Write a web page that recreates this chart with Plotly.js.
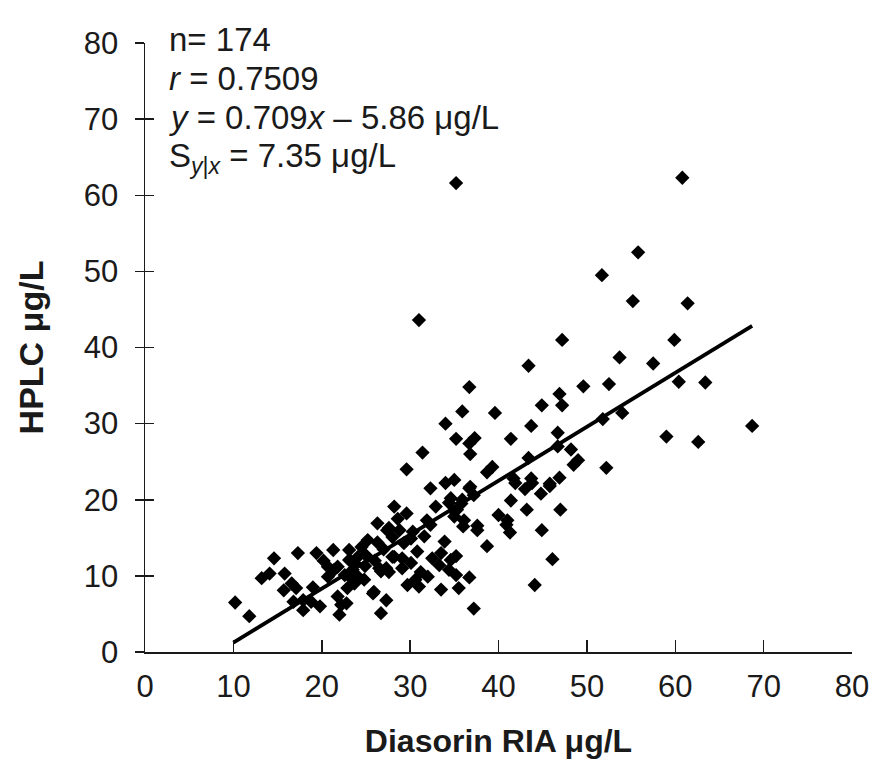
<!DOCTYPE html>
<html>
<head>
<meta charset="utf-8">
<script src="https://cdn.plot.ly/plotly-3.0.1.min.js"></script>
<style>html,body{margin:0;padding:0;background:#fff;}#chart{width:873px;height:770px;}</style>
</head>
<body>
<div id="chart"></div>
<script>
// Diasorin RIA (x, µg/L) vs HPLC (y, µg/L)
const diasorinRIA = [
  35.2, 60.8, 31.0, 55.8, 51.7, 55.2, 61.4, 47.2, 59.9, 43.4,
  53.7, 57.5, 49.6, 52.5, 60.4, 63.4, 39.6, 44.9, 46.9, 47.2,
  43.7, 41.4, 46.7, 46.7, 51.8, 54.0, 59.0, 62.6, 68.7, 43.4,
  48.2, 48.5, 49.0, 52.2, 39.3, 38.7, 41.7, 43.7, 46.9, 36.7,
  35.9, 37.3, 36.7, 36.8, 41.9, 43.8, 45.8, 36.8, 43.0, 44.8,
  45.8, 41.4, 43.2, 47.0, 40.0, 41.0, 40.9, 41.3, 37.6, 44.9,
  38.7, 35.2, 46.1, 36.7, 35.5, 44.1, 37.2, 34.0, 35.2, 31.4,
  29.6, 34.0, 35.0, 32.3, 34.6, 35.9, 28.2, 32.9, 36.7, 37.2,
  29.6, 26.3, 35.0, 36.1, 37.6, 35.3, 34.4, 27.6, 28.8, 30.3,
  31.9, 32.3, 25.2, 26.3, 29.3, 30.1, 21.3, 23.1, 24.1, 23.3,
  28.0, 29.1, 30.1, 33.5, 34.6, 26.5, 27.6, 29.1, 33.3, 34.4,
  35.2, 21.8, 22.6, 23.5, 24.8, 31.2, 32.0, 30.6, 31.0, 29.7,
  25.9, 27.3, 21.8, 22.8, 33.5, 26.7, 10.2, 11.8, 14.6, 17.3,
  19.4, 14.1, 15.8, 16.6, 17.1, 15.7, 20.7, 16.8, 17.9, 18.8,
  19.8, 17.9, 13.2, 22.0, 22.2, 22.9, 25.8, 23.1, 23.7, 24.5,
  25.0, 27.4, 28.0, 28.2, 27.3, 26.7, 21.4, 20.7, 23.7, 24.1,
  23.5, 35.0, 35.8, 36.0, 24.9, 26.0, 27.0, 30.8, 32.5, 33.9,
  31.6, 19.0, 20.2, 28.6
];
const hplc = [
  61.6, 62.3, 43.6, 52.5, 49.5, 46.1, 45.8, 41.0, 41.0, 37.6,
  38.7, 37.9, 34.9, 35.2, 35.5, 35.4, 31.4, 32.4, 33.9, 32.4,
  29.7, 28.0, 28.8, 27.0, 30.6, 31.4, 28.3, 27.6, 29.7, 25.5,
  26.6, 24.6, 25.2, 24.2, 24.3, 23.6, 22.8, 22.8, 22.9, 34.8,
  31.6, 28.1, 27.4, 26.0, 22.2, 22.2, 22.1, 21.7, 21.4, 20.8,
  21.8, 19.9, 18.7, 18.7, 18.0, 17.3, 16.7, 15.7, 16.0, 16.0,
  13.9, 12.6, 12.2, 9.8, 8.4, 8.8, 5.7, 30.0, 28.0, 26.2,
  24.0, 22.2, 22.6, 21.5, 20.2, 20.0, 19.1, 19.1, 21.5, 20.6,
  18.2, 16.9, 17.8, 17.3, 16.6, 18.7, 19.6, 16.3, 16.0, 15.8,
  17.3, 16.7, 14.7, 14.4, 14.3, 14.9, 13.4, 13.4, 12.5, 11.9,
  12.5, 12.3, 11.7, 13.0, 12.1, 11.0, 10.5, 11.0, 11.4, 10.8,
  10.1, 11.2, 10.1, 9.5, 9.5, 10.5, 9.9, 9.5, 8.6, 8.8,
  7.9, 6.8, 7.3, 6.4, 8.2, 5.1, 6.5, 4.7, 12.3, 13.0,
  13.0, 10.3, 10.3, 9.0, 8.4, 8.1, 9.9, 6.6, 5.5, 6.6,
  6.0, 6.8, 9.7, 4.9, 6.2, 8.4, 7.7, 12.1, 11.7, 13.8,
  12.7, 16.0, 15.1, 12.5, 11.0, 10.6, 10.8, 11.2, 9.0, 9.9,
  10.8, 18.5, 19.5, 16.5, 11.3, 12.0, 13.5, 13.2, 12.3, 14.5,
  15.2, 8.5, 12.0, 17.5
];
// Regression line from the printed equation y = 0.709x − 5.86
const fitSlope = 0.709;
const fitIntercept = -5.86;
const fitXRange = [10.0, 68.7];
const xTicks = [0, 10, 20, 30, 40, 50, 60, 70, 80];
const yTicks = [0, 10, 20, 30, 40, 50, 60, 70, 80];

const fitY = fitXRange.map(x => fitSlope * x + fitIntercept);

const FONT = 'Liberation Sans, Arial, sans-serif';
const INK = '#1a1a1a';

const traces = [
  {
    x: diasorinRIA, y: hplc, type: 'scatter', mode: 'markers',
    marker: {symbol: 'diamond', size: 11, color: '#000', line: {width: 0}},
    hoverinfo: 'x+y', showlegend: false
  },
  {
    x: fitXRange, y: fitY, type: 'scatter', mode: 'lines',
    line: {color: '#000', width: 3.8}, hoverinfo: 'skip', showlegend: false
  },
  // invisible trace on the overlay axis so the inner half of the y ticks is drawn
  {
    x: [0], y: [0], yaxis: 'y2', type: 'scatter', mode: 'markers',
    marker: {opacity: 0}, hoverinfo: 'skip', showlegend: false
  }
];

const annFont = {family: FONT, size: 33, color: INK};
const layout = {
  width: 873, height: 770,
  margin: {l: 145, r: 21, t: 43, b: 118},
  paper_bgcolor: '#fff', plot_bgcolor: '#fff',
  font: {family: FONT, color: INK},
  xaxis: {
    range: [0, 80], tickvals: xTicks, ticktext: xTicks.map(String),
    ticks: 'inside', ticklen: 12, tickwidth: 1.5, tickcolor: INK,
    showline: true, linecolor: INK, linewidth: 1.5,
    showgrid: false, zeroline: false,
    ticklabelstandoff: 6,
    tickfont: {family: FONT, size: 31, color: INK},
    title: {text: '<b>Diasorin RIA μg/L</b>', font: {family: FONT, size: 32, color: INK}, standoff: 27}
  },
  yaxis: {
    range: [0, 80], tickvals: yTicks, ticktext: yTicks.map(String),
    ticks: 'outside', ticklen: 9, tickwidth: 1.5, tickcolor: INK,
    showline: true, linecolor: INK, linewidth: 1.5,
    showgrid: false, zeroline: false,
    ticklabelstandoff: 10,
    tickfont: {family: FONT, size: 31, color: INK},
    title: {text: '<b>HPLC μg/L</b>', font: {family: FONT, size: 34, color: INK}, standoff: 30}
  },
  yaxis2: {
    overlaying: 'y', side: 'left', anchor: 'x',
    range: [0, 80], tickvals: yTicks,
    ticks: 'inside', ticklen: 9, tickwidth: 1.5, tickcolor: INK,
    showticklabels: false, showline: false, showgrid: false, zeroline: false
  },
  annotations: [
    {xref: 'paper', yref: 'paper', x: 0.031, y: 1.005, xanchor: 'left', yanchor: 'middle', showarrow: false,
     text: 'n= 174', font: annFont},
    {xref: 'paper', yref: 'paper', x: 0.031, y: 0.941, xanchor: 'left', yanchor: 'middle', showarrow: false,
     text: '<i>r</i> = 0.7509', font: annFont},
    {xref: 'paper', yref: 'paper', x: 0.031, y: 0.877, xanchor: 'left', yanchor: 'middle', showarrow: false,
     text: '<i>y</i> = 0.709<i>x</i> – 5.86 μg/L', font: annFont},
    {xref: 'paper', yref: 'paper', x: 0.031, y: 0.811, xanchor: 'left', yanchor: 'middle', showarrow: false,
     text: 'S<sub><i>y</i>|<i>x</i></sub> = 7.35 μg/L', font: annFont}
  ]
};

Plotly.newPlot('chart', traces, layout, {displayModeBar: false, staticPlot: true});
</script>
</body>
</html>
